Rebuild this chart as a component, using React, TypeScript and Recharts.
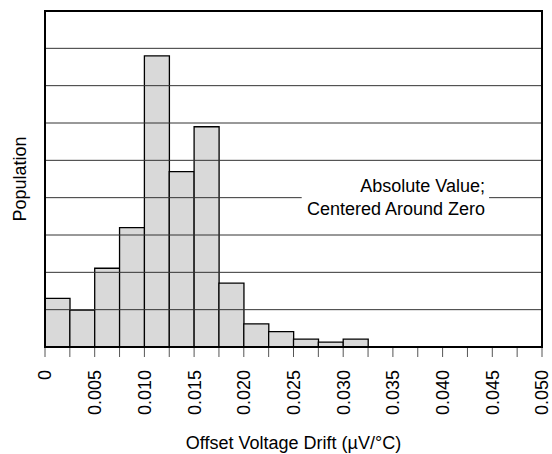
import { BarChart, Bar, XAxis, YAxis, ReferenceLine } from "recharts";

// Histogram bins, each 0.0025 µV/°C wide
const binStarts = [
  0, 0.0025, 0.005, 0.0075, 0.01, 0.0125, 0.015, 0.0175, 0.02, 0.0225,
  0.025, 0.0275, 0.03, 0.0325, 0.035, 0.0375, 0.04, 0.0425, 0.045, 0.0475,
];

// Population per bin (in grid units)
const population = [
  1.3, 0.99, 2.11, 3.2, 7.8, 4.7, 5.9, 1.71, 0.62, 0.41,
  0.21, 0.13, 0.21, 0, 0, 0, 0, 0, 0, 0,
];

// Labels at the bin edges (21 edges, labelled every other one)
const tickLabels = [
  "0", "", "0.005", "", "0.010", "", "0.015", "", "0.020", "",
  "0.025", "", "0.030", "", "0.035", "", "0.040", "", "0.045", "",
  "0.050",
];

const gridTicks = [0, 1, 2, 3, 4, 5, 6, 7, 8, 9];
const innerGrid = [1, 2, 3, 4, 5, 6, 7, 8];

const FONT = '"Liberation Sans", Arial, sans-serif';
const FONT_SIZE = 18;

// Plot area box (chart margins + axis sizes)
const PLOT_LEFT = 45;
const PLOT_TOP = 11;
const PLOT_RIGHT = 10;
const X_AXIS_HEIGHT = 107;
const CHART_W = 552;
const CHART_H = 454;

const data = binStarts.map((start, i) => ({
  bin: String(start),
  population: population[i],
}));

function edgeMark(x: number, y: number, label: string, key: string) {
  return (
    <g key={key}>
      <line x1={x} y1={y} x2={x} y2={y + 10} stroke="#555" strokeWidth={1} />
      {label && (
        <text
          transform={`translate(${x},${y + 23}) rotate(-90)`}
          textAnchor="end"
          dy="0.36em"
          fontFamily={FONT}
          fontSize={FONT_SIZE}
          fill="#000"
        >
          {label}
        </text>
      )}
    </g>
  );
}

// Ticks sit on the bin edges rather than the band centres
function EdgeTick(props: any) {
  const { x, y, payload, index } = props;
  const i = index ?? payload.index;
  const half =
    payload.offset ?? (props.width ? props.width / binStarts.length / 2 : 12.4);
  return (
    <g>
      {edgeMark(x - half, y, tickLabels[i], "l")}
      {i === binStarts.length - 1 &&
        edgeMark(x + half, y, tickLabels[i + 1], "r")}
    </g>
  );
}

function XTitle(props: any) {
  const { x, y, width, height } = props.viewBox;
  return (
    <text
      x={x + width / 2}
      y={y + height - 5}
      textAnchor="middle"
      fontFamily={FONT}
      fontSize={FONT_SIZE}
      fill="#000"
    >
      Offset Voltage Drift (µV/°C)
    </text>
  );
}

function YTitle(props: any) {
  const { viewBox } = props;
  const cy = viewBox.y + viewBox.height / 2;
  return (
    <text
      transform={`translate(20,${cy}) rotate(-90)`}
      textAnchor="middle"
      dy="0.36em"
      fontFamily={FONT}
      fontSize={FONT_SIZE}
      fill="#000"
    >
      Population
    </text>
  );
}

// Note text, with a white box knocking out the grid line behind it
function NoteLabel(props: any) {
  const { viewBox } = props;
  const left = viewBox.x + viewBox.width * 0.5165;
  const right = viewBox.x + viewBox.width * 0.8935;
  const mid = viewBox.y;
  return (
    <g fontFamily={FONT} fontSize={FONT_SIZE} fill="#000">
      <rect x={left} y={mid - 4} width={right - left} height={8} fill="#fff" />
      <text x={right - 4} y={mid - 6} textAnchor="end">
        Absolute Value;
      </text>
      <text x={right - 4} y={mid + 17} textAnchor="end">
        Centered Around Zero
      </text>
    </g>
  );
}

export default function App() {
  const plotW = CHART_W - PLOT_LEFT - PLOT_RIGHT;
  const plotH = CHART_H - PLOT_TOP - X_AXIS_HEIGHT;
  return (
    <div
      style={{
        position: "absolute",
        left: 0,
        top: 0,
        width: CHART_W,
        height: CHART_H,
        background: "#fff",
      }}
    >
      <BarChart
        width={CHART_W}
        height={CHART_H}
        data={data}
        barCategoryGap={0}
        margin={{ top: PLOT_TOP, right: PLOT_RIGHT, bottom: 0, left: 0 }}
      >
        {innerGrid.map((v) => (
          <ReferenceLine key={v} y={v} stroke="#333" strokeWidth={1} />
        ))}
        <XAxis
          dataKey="bin"
          interval={0}
          height={X_AXIS_HEIGHT}
          tickSize={0}
          tickMargin={0}
          tickLine={false}
          axisLine={{ stroke: "#000", strokeWidth: 2 }}
          tick={<EdgeTick />}
          label={<XTitle />}
        />
        <YAxis
          domain={[0, 9]}
          ticks={gridTicks}
          tick={<g />}
          tickLine={false}
          width={PLOT_LEFT}
          axisLine={{ stroke: "#000", strokeWidth: 2 }}
          label={<YTitle />}
        />
        <Bar
          dataKey="population"
          fill="#d9d9d9"
          stroke="#000"
          strokeWidth={1.3}
          isAnimationActive={false}
        />
        <ReferenceLine y={4} stroke="none" label={<NoteLabel />} />
      </BarChart>
      {/* frame round the plot area */}
      <div
        style={{
          position: "absolute",
          left: PLOT_LEFT - 1,
          top: PLOT_TOP - 1,
          width: plotW + 2,
          height: plotH + 2,
          boxSizing: "border-box",
          border: "2px solid #000",
          pointerEvents: "none",
        }}
      />
    </div>
  );
}
